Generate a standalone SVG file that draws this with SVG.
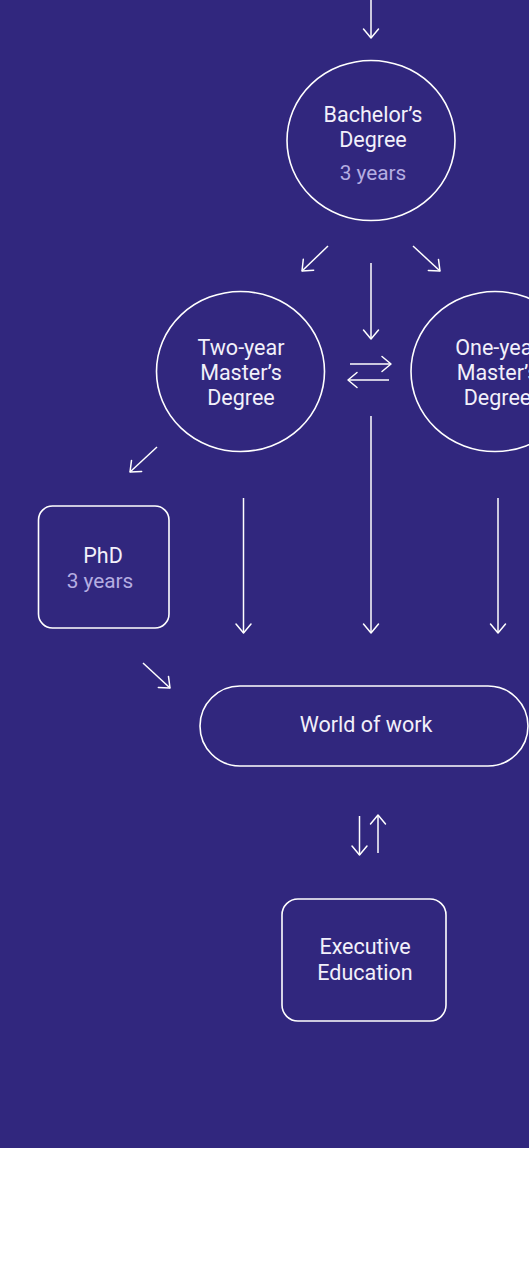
<svg xmlns="http://www.w3.org/2000/svg" width="529" height="1280" viewBox="0 0 529 1280">
  <defs>
    <style>
      .bg { fill: #31277e; }
      .shape { fill: none; stroke: #ffffff; stroke-width: 1.6; }
      .link { fill: none; stroke: #ffffff; stroke-width: 1.5; marker-end: url(#head); }
      .label { font-family: Roboto, "Liberation Sans", sans-serif; font-size: 21.5px; fill: #f2f0fa; text-anchor: middle; }
      .sub { fill: #b5aee2; font-size: 20.8px; }
    </style>
    <marker id="head" markerUnits="userSpaceOnUse" markerWidth="24" markerHeight="24" viewBox="-12 -12 24 24" refX="0" refY="0" orient="auto">
      <path d="M-9,-7.5 L0,0 L-9,7.5" fill="none" stroke="#ffffff" stroke-width="1.5" stroke-linecap="round" stroke-linejoin="round"/>
    </marker>
  </defs>

  <rect class="bg" x="0" y="0" width="529" height="1148"/>
  <rect x="0" y="1148" width="529" height="132" fill="#ffffff"/>

  <g id="connectors">
    <line class="link" x1="371" y1="0" x2="371" y2="38"/>
    <line class="link" x1="328" y1="246" x2="302" y2="271"/>
    <line class="link" x1="413" y1="246" x2="440" y2="271"/>
    <line class="link" x1="371" y1="263" x2="371" y2="339"/>
    <line class="link" x1="350" y1="364" x2="391" y2="364"/>
    <line class="link" x1="389" y1="380" x2="348" y2="380"/>
    <line class="link" x1="371" y1="416" x2="371" y2="633"/>
    <line class="link" x1="157" y1="447" x2="130" y2="472"/>
    <line class="link" x1="243.5" y1="498" x2="243.5" y2="633"/>
    <line class="link" x1="498" y1="498" x2="498" y2="633"/>
    <line class="link" x1="143" y1="663" x2="170" y2="688"/>
    <line class="link" x1="359.5" y1="816" x2="359.5" y2="855"/>
    <line class="link" x1="378" y1="853" x2="378" y2="815"/>
  </g>

  <g id="bachelor">
    <ellipse class="shape" cx="371" cy="140.5" rx="84" ry="80"/>
    <text class="label" x="373" y="122">Bachelor’s</text>
    <text class="label" x="373" y="147">Degree</text>
    <text class="label sub" x="373" y="180">3 years</text>
  </g>

  <g id="two-year-master">
    <ellipse class="shape" cx="240.5" cy="371.5" rx="84" ry="80"/>
    <text class="label" x="241" y="355">Two-year</text>
    <text class="label" x="241" y="380">Master’s</text>
    <text class="label" x="241" y="405">Degree</text>
  </g>

  <g id="one-year-master">
    <ellipse class="shape" cx="495" cy="371.5" rx="84" ry="80"/>
    <text class="label" x="497.5" y="355">One-year</text>
    <text class="label" x="497.5" y="380">Master’s</text>
    <text class="label" x="497.5" y="405">Degree</text>
  </g>

  <g id="phd">
    <rect class="shape" x="38.5" y="506" width="130.5" height="122" rx="14"/>
    <text class="label" x="103" y="563">PhD</text>
    <text class="label sub" x="100" y="588">3 years</text>
  </g>

  <g id="world-of-work">
    <rect class="shape" x="200" y="686" width="328" height="80" rx="40"/>
    <text class="label" x="366" y="732">World of work</text>
  </g>

  <g id="executive-education">
    <rect class="shape" x="282" y="899" width="164" height="122" rx="16"/>
    <text class="label" x="365" y="954">Executive</text>
    <text class="label" x="365" y="980">Education</text>
  </g>
</svg>
